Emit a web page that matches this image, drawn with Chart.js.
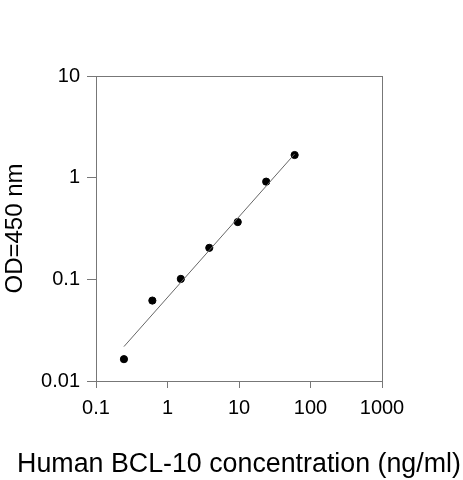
<!DOCTYPE html>
<html>
<head>
<meta charset="utf-8">
<script src="https://cdn.jsdelivr.net/npm/chart.js@4"></script>
<style>
  html, body { margin: 0; padding: 0; background: #fff; }
  canvas { display: block; }
</style>
</head>
<body>
<canvas id="curve" width="463" height="480"></canvas>
<script>
// standard curve data
var concentration = [0.246, 0.614, 1.536, 3.84, 9.6, 24, 60];
var od450 = [0.0164, 0.0618, 0.101, 0.204, 0.366, 0.914, 1.67];
// fitted line ends
var fitConcentration = [0.246, 60];
var fitOd = [0.0218, 1.71];
// tick labels
var xTicks = [0.1, 1, 10, 100, 1000];
var yTicks = [0.01, 0.1, 1, 10];
var xTitle = 'Human BCL-10 concentration (ng/ml)';

var axisColor = '#777';
var fontFamily = '"Liberation Sans", Arial, sans-serif';

// box around the plot area + x title (the scale title would be squeezed to the axis width)
var frame = {
    id: 'frame',
    afterDraw: function (chart) {
        var a = chart.chartArea, c = chart.ctx;
        c.save();
        c.strokeStyle = axisColor;
        c.lineWidth = 1;
        c.strokeRect(a.left + 0.5, a.top + 0.5, a.right - a.left, a.bottom - a.top);
        c.fillStyle = '#000';
        c.font = '26.8px ' + fontFamily;
        c.textAlign = 'center';
        c.textBaseline = 'alphabetic';
        c.fillText(xTitle, (a.left + a.right) / 2, 472);
        c.restore();
    }
};

function pairs(xs, ys) {
    return xs.map(function (x, i) { return { x: x, y: ys[i] }; });
}

function fixedTicks(list) {
    return function (scale) {
        scale.ticks = list.map(function (v) { return { value: v }; });
    };
}

var ctx = document.getElementById('curve').getContext('2d');
new Chart(ctx, {
    type: 'scatter',
    data: {
        datasets: [{
            type: 'line',
            data: pairs(fitConcentration, fitOd),
            borderColor: '#666',
            borderWidth: 1,
            pointRadius: 0,
            fill: false
        }, {
            data: pairs(concentration, od450),
            backgroundColor: '#000',
            borderColor: '#000',
            pointRadius: 3.6
        }]
    },
    options: {
        responsive: false,
        devicePixelRatio: 1,
        animation: false,
        layout: { padding: { top: 76, right: 81, left: 0, bottom: 0 } },
        plugins: { legend: { display: false }, tooltip: { enabled: false } },
        scales: {
            x: {
                type: 'logarithmic',
                min: 0.1,
                max: 1000,
                afterBuildTicks: fixedTicks(xTicks),
                afterFit: function (s) { s.height = 99; },
                grid: { drawOnChartArea: false, color: axisColor, tickLength: 7 },
                border: { color: axisColor },
                ticks: {
                    color: '#000',
                    padding: 8,
                    maxRotation: 0,
                    font: { family: fontFamily, size: 20 },
                    callback: function (v) { return String(v); }
                }
            },
            y: {
                type: 'logarithmic',
                min: 0.01,
                max: 10,
                afterBuildTicks: fixedTicks(yTicks),
                afterFit: function (s) { s.width = 96; },
                grid: { drawOnChartArea: false, color: axisColor, tickLength: 9 },
                border: { color: axisColor },
                ticks: {
                    color: '#000',
                    padding: 7,
                    font: { family: fontFamily, size: 20 },
                    callback: function (v) { return String(v); }
                },
                title: {
                    display: true,
                    text: 'OD=450 nm',
                    color: '#000',
                    padding: { top: 1, bottom: 0 },
                    font: { family: fontFamily, size: 24 }
                }
            }
        }
    },
    plugins: [frame]
});
</script>
</body>
</html>
